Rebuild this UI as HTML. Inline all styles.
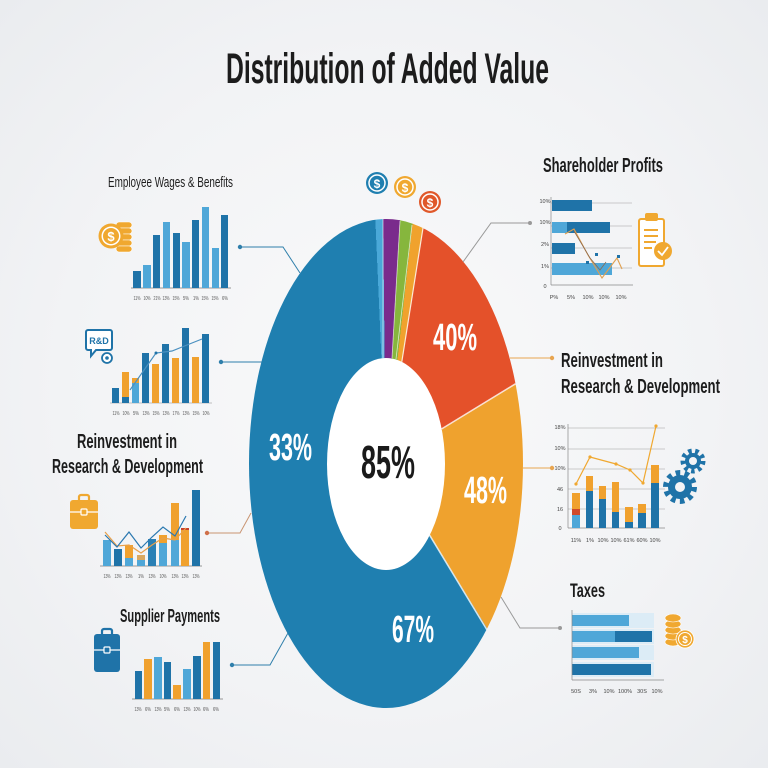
<!DOCTYPE html>
<html><head><meta charset="utf-8">
<style>
html,body{margin:0;padding:0;}
body{width:768px;height:768px;position:relative;overflow:hidden;background:radial-gradient(ellipse at 50% 50%,#f9fafb 0%,#f2f3f5 60%,#eaecef 100%);font-family:"Liberation Sans",sans-serif;}
#donut{position:absolute;left:249px;top:219px;width:274px;height:489px;border-radius:50%;
background:conic-gradient(#7a2b8c 0deg 3.3deg,#86b63d 3.3deg 6.3deg,#f0a22d 6.3deg 9deg,#e4512a 9deg 58.5deg,#efa22e 58.5deg 148.5deg,#1f7fb0 148.5deg 357.5deg,#4aa8d8 357.5deg 359.3deg,#7a2b8c 359.3deg 360deg);}
svg{position:absolute;left:0;top:0;}
</style></head>
<body>
<div id="donut"></div>
<svg width="768" height="768" viewBox="0 0 768 768" font-family="Liberation Sans, sans-serif">
<!-- title -->
<text x="226" y="83" font-size="43" font-weight="bold" fill="#1c1c1c" textLength="323" lengthAdjust="spacingAndGlyphs">Distribution of Added Value</text>

<!-- donut inner + separators -->
<line x1="401.8" y1="361.8" x2="423" y2="228" stroke="#fff" stroke-width="1.2" opacity="0.8"/>
<line x1="441.7" y1="428.9" x2="515.5" y2="383.8" stroke="#fff" stroke-width="1.5" opacity="0.8"/>
<line x1="429.3" y1="534.7" x2="486.8" y2="629.6" stroke="#fff" stroke-width="1.5" opacity="0.8"/>
<line x1="383" y1="358" x2="383" y2="219" stroke="#fff" stroke-width="0.8" opacity="0.7"/>
<line x1="392" y1="358" x2="400" y2="221" stroke="#fff" stroke-width="0.8" opacity="0.7"/>
<line x1="396" y1="359" x2="412" y2="225" stroke="#fff" stroke-width="0.8" opacity="0.7"/>
<ellipse cx="386" cy="464" rx="59" ry="106" fill="#fff"/>
<text x="269" y="460" font-size="38" font-weight="bold" fill="#fff" textLength="43" lengthAdjust="spacingAndGlyphs">33%</text>
<text x="433" y="350" font-size="38" font-weight="bold" fill="#fff" textLength="44" lengthAdjust="spacingAndGlyphs">40%</text>
<text x="464" y="503" font-size="38" font-weight="bold" fill="#fff" textLength="43" lengthAdjust="spacingAndGlyphs">48%</text>
<text x="392" y="642" font-size="38" font-weight="bold" fill="#fff" textLength="42" lengthAdjust="spacingAndGlyphs">67%</text>
<text x="361" y="478" font-size="46" font-weight="bold" fill="#1a1a1a" textLength="54" lengthAdjust="spacingAndGlyphs">85%</text>

<!-- top coins -->
<g font-weight="bold" text-anchor="middle">
<circle cx="377" cy="183" r="11" fill="#1f7fb0"/><circle cx="377" cy="183" r="8" fill="none" stroke="#fff" stroke-width="1.5"/><text x="377" y="188" font-size="12" fill="#fff">$</text>
<circle cx="405" cy="187" r="11" fill="#f0a830"/><circle cx="405" cy="187" r="8" fill="none" stroke="#fff" stroke-width="1.5"/><text x="405" y="192" font-size="12" fill="#fff">$</text>
<circle cx="430" cy="202" r="11" fill="#e0582a"/><circle cx="430" cy="202" r="8" fill="none" stroke="#fff" stroke-width="1.5"/><text x="430" y="207" font-size="12" fill="#fff">$</text>
</g>

<!-- connectors -->
<g fill="none" stroke-width="1">
<polyline points="240,247 283,247 300,273" stroke="#2f7fab"/>
<polyline points="221,362 262,362" stroke="#2f7fab"/>
<polyline points="207,533 240,533 251,513" stroke="#c99572"/>
<polyline points="232,665 270,665 288,633" stroke="#2f7fab"/>
<polyline points="530,223 491,223 463,262" stroke="#999"/>
<polyline points="510,358 552,358" stroke="#e8a550"/>
<polyline points="523,468 552,468" stroke="#e8a550"/>
<polyline points="501,597 520,628 560,628" stroke="#999"/>
</g>
<circle cx="240" cy="247" r="2.2" fill="#2f7fab"/>
<circle cx="221" cy="362" r="2.2" fill="#2f7fab"/>
<circle cx="207" cy="533" r="2.2" fill="#d0704a"/>
<circle cx="232" cy="665" r="2.2" fill="#2f7fab"/>
<circle cx="530" cy="223" r="2" fill="#999"/>
<circle cx="552" cy="358" r="2.2" fill="#e8a550"/>
<circle cx="552" cy="468" r="2.2" fill="#e8a550"/>
<circle cx="560" cy="628" r="2" fill="#999"/>

<!-- ===== Panel 1: Employee Wages ===== -->
<text x="108" y="187" font-size="15" fill="#1e1e1e" textLength="125" lengthAdjust="spacingAndGlyphs">Employee Wages &amp; Benefits</text>
<g>
<rect x="116" y="222" width="16" height="6" rx="3" fill="#f0a830" stroke="#fff" stroke-width="0.6"/>
<rect x="116" y="228" width="16" height="6" rx="3" fill="#f0a830" stroke="#fff" stroke-width="0.6"/>
<rect x="116" y="234" width="16" height="6" rx="3" fill="#f0a830" stroke="#fff" stroke-width="0.6"/>
<rect x="116" y="240" width="16" height="6" rx="3" fill="#f0a830" stroke="#fff" stroke-width="0.6"/>
<rect x="116" y="246" width="16" height="6" rx="3" fill="#f0a830" stroke="#fff" stroke-width="0.6"/>
<circle cx="111" cy="236" r="12.5" fill="#f0a830"/>
<circle cx="111" cy="236" r="9.5" fill="#fff" stroke="none"/>
<circle cx="111" cy="236" r="8" fill="#f0a830"/>
<text x="111" y="241" font-size="13" font-weight="bold" fill="#fff" text-anchor="middle">$</text>
</g>
<line x1="131" y1="288" x2="231" y2="288" stroke="#777" stroke-width="0.8"/>
<g fill="#1f73a8">
<rect x="133" y="271" width="8" height="17"/>
<rect x="153" y="235" width="7" height="53"/>
<rect x="173" y="233" width="7" height="55"/>
<rect x="192" y="220" width="7" height="68"/>
<rect x="221" y="215" width="7" height="73"/>
</g>
<g fill="#4fa7d8">
<rect x="143" y="265" width="8" height="23"/>
<rect x="163" y="222" width="7" height="66"/>
<rect x="182" y="242" width="8" height="46"/>
<rect x="202" y="207" width="7" height="81"/>
<rect x="212" y="248" width="7" height="40"/>
</g>
<g font-size="5.5" fill="#555" text-anchor="middle" lengthAdjust="spacingAndGlyphs">
<text x="137" y="300" textLength="7" lengthAdjust="spacingAndGlyphs">11%</text><text x="147" y="300" textLength="7" lengthAdjust="spacingAndGlyphs">10%</text><text x="157" y="300" textLength="7" lengthAdjust="spacingAndGlyphs">21%</text><text x="166" y="300" textLength="7" lengthAdjust="spacingAndGlyphs">13%</text><text x="176" y="300" textLength="7" lengthAdjust="spacingAndGlyphs">15%</text><text x="186" y="300" textLength="6" lengthAdjust="spacingAndGlyphs">5%</text><text x="196" y="300" textLength="6" lengthAdjust="spacingAndGlyphs">1%</text><text x="205" y="300" textLength="7" lengthAdjust="spacingAndGlyphs">15%</text><text x="215" y="300" textLength="7" lengthAdjust="spacingAndGlyphs">15%</text><text x="225" y="300" textLength="6" lengthAdjust="spacingAndGlyphs">6%</text>
</g>

<!-- ===== Panel 2: R&D chart ===== -->
<g>
<path d="M88 330 h22 a2 2 0 0 1 2 2 v16 a2 2 0 0 1 -2 2 h-14 l-5 6 v-6 h-3 a2 2 0 0 1 -2 -2 v-16 a2 2 0 0 1 2 -2z" fill="#fff" stroke="#1f73a8" stroke-width="2"/>
<text x="99" y="344" font-size="9" font-weight="bold" fill="#1f73a8" text-anchor="middle">R&amp;D</text>
<circle cx="107" cy="358" r="5" fill="#fff" stroke="#1f73a8" stroke-width="1.8"/>
<circle cx="107" cy="358" r="1.8" fill="#1f73a8"/>
</g>
<line x1="110" y1="403" x2="212" y2="403" stroke="#888" stroke-width="0.6"/>
<g fill="#1f73a8">
<rect x="112" y="388" width="7" height="15"/>
<rect x="122" y="397" width="7" height="6"/>
<rect x="142" y="353" width="7" height="50"/>
<rect x="162" y="344" width="7" height="59"/>
<rect x="182" y="328" width="7" height="75"/>
<rect x="202" y="334" width="7" height="69"/>
</g>
<g fill="#f0a12e">
<rect x="122" y="372" width="7" height="25"/>
<rect x="132" y="378" width="7" height="5"/>
<rect x="152" y="364" width="7" height="39"/>
<rect x="172" y="358" width="7" height="45"/>
<rect x="192" y="357" width="7" height="46"/>
</g>
<rect x="132" y="383" width="7" height="20" fill="#4fa7d8"/>
<polyline points="130,390 156,353 172,351 187,345 202,339" fill="none" stroke="#4a90c0" stroke-width="1.2"/>
<circle cx="156" cy="353" r="1.5" fill="#1f73a8"/>
<g font-size="5.5" fill="#555" text-anchor="middle">
<text x="116" y="415" textLength="7" lengthAdjust="spacingAndGlyphs">11%</text><text x="126" y="415" textLength="7" lengthAdjust="spacingAndGlyphs">10%</text><text x="136" y="415" textLength="6" lengthAdjust="spacingAndGlyphs">5%</text><text x="146" y="415" textLength="7" lengthAdjust="spacingAndGlyphs">13%</text><text x="156" y="415" textLength="7" lengthAdjust="spacingAndGlyphs">15%</text><text x="166" y="415" textLength="7" lengthAdjust="spacingAndGlyphs">13%</text><text x="176" y="415" textLength="7" lengthAdjust="spacingAndGlyphs">17%</text><text x="186" y="415" textLength="7" lengthAdjust="spacingAndGlyphs">13%</text><text x="196" y="415" textLength="7" lengthAdjust="spacingAndGlyphs">15%</text><text x="206" y="415" textLength="7" lengthAdjust="spacingAndGlyphs">10%</text>
</g>

<!-- ===== Panel 3: Reinvestment left ===== -->
<text x="77" y="448" font-size="20" font-weight="bold" fill="#1c1c1c" textLength="100" lengthAdjust="spacingAndGlyphs">Reinvestment in</text>
<text x="52" y="473" font-size="20" font-weight="bold" fill="#1c1c1c" textLength="151" lengthAdjust="spacingAndGlyphs">Research &amp; Development</text>
<g>
<path d="M79 500 v-3 a2 2 0 0 1 2 -2 h6 a2 2 0 0 1 2 2 v3" fill="none" stroke="#f0a830" stroke-width="2.2"/>
<rect x="70" y="500" width="28" height="29" rx="3" fill="#f0a830"/>
<line x1="70" y1="512" x2="98" y2="512" stroke="#fff" stroke-width="1.2"/>
<rect x="81" y="509" width="6" height="6" rx="1" fill="#f0a830" stroke="#fff" stroke-width="1.2"/>
</g>
<line x1="100" y1="566" x2="202" y2="566" stroke="#777" stroke-width="0.8"/>
<rect x="103" y="540" width="8" height="26" fill="#4fa7d8"/>
<rect x="114" y="549" width="8" height="17" fill="#1f73a8"/>
<rect x="125" y="545" width="8" height="13" fill="#f0a12e"/><rect x="125" y="558" width="8" height="8" fill="#4fa7d8"/>
<rect x="137" y="555" width="8" height="11" fill="#d9a860"/><rect x="137" y="560" width="8" height="6" fill="#4fa7d8"/>
<rect x="148" y="539" width="8" height="27" fill="#2a80b5"/>
<rect x="159" y="535" width="8" height="8" fill="#f0a12e"/><rect x="159" y="543" width="8" height="23" fill="#4fa7d8"/>
<rect x="171" y="503" width="8" height="37" fill="#f0a12e"/><rect x="171" y="540" width="8" height="26" fill="#4fa7d8"/>
<rect x="181" y="528" width="8" height="38" fill="#f0a12e"/><rect x="181" y="528" width="8" height="2" fill="#c8402a"/>
<rect x="192" y="490" width="8" height="76" fill="#1f73a8"/>
<polyline points="105,532 117,546 129,545 141,553 152,545 163,538 175,540 186,528" fill="none" stroke="#e8a04a" stroke-width="1.2"/>
<polyline points="105,535 117,547 129,532 141,548 152,537 163,527 175,536 186,516" fill="none" stroke="#2a78b0" stroke-width="1.2"/>
<g font-size="5.5" fill="#555" text-anchor="middle">
<text x="107" y="578" textLength="7" lengthAdjust="spacingAndGlyphs">13%</text><text x="118" y="578" textLength="7" lengthAdjust="spacingAndGlyphs">13%</text><text x="129" y="578" textLength="7" lengthAdjust="spacingAndGlyphs">13%</text><text x="141" y="578" textLength="6" lengthAdjust="spacingAndGlyphs">1%</text><text x="152" y="578" textLength="7" lengthAdjust="spacingAndGlyphs">13%</text><text x="163" y="578" textLength="7" lengthAdjust="spacingAndGlyphs">10%</text><text x="175" y="578" textLength="7" lengthAdjust="spacingAndGlyphs">13%</text><text x="185" y="578" textLength="7" lengthAdjust="spacingAndGlyphs">13%</text><text x="196" y="578" textLength="7" lengthAdjust="spacingAndGlyphs">13%</text>
</g>

<!-- ===== Panel 4: Supplier Payments ===== -->
<text x="120" y="622" font-size="18" font-weight="bold" fill="#1c1c1c" textLength="100" lengthAdjust="spacingAndGlyphs">Supplier Payments</text>
<g>
<path d="M102 634 v-3 a2 2 0 0 1 2 -2 h6 a2 2 0 0 1 2 2 v3" fill="none" stroke="#1f73a8" stroke-width="2.2"/>
<rect x="94" y="634" width="26" height="38" rx="3" fill="#1f73a8"/>
<line x1="94" y1="650" x2="120" y2="650" stroke="#fff" stroke-width="1.2"/>
<rect x="104" y="647" width="6" height="6" rx="1" fill="#1f73a8" stroke="#fff" stroke-width="1.2"/>
</g>
<line x1="132" y1="699" x2="223" y2="699" stroke="#777" stroke-width="0.8"/>
<rect x="135" y="671" width="7" height="28" fill="#1f73a8"/>
<rect x="144" y="659" width="8" height="40" fill="#f0a12e"/>
<rect x="154" y="657" width="8" height="42" fill="#4fa7d8"/>
<rect x="164" y="662" width="7" height="37" fill="#1f73a8"/>
<rect x="173" y="685" width="8" height="14" fill="#f0a12e"/>
<rect x="183" y="669" width="8" height="30" fill="#4fa7d8"/>
<rect x="193" y="656" width="8" height="43" fill="#1f73a8"/>
<rect x="203" y="642" width="7" height="57" fill="#f0a12e"/>
<rect x="213" y="642" width="7" height="57" fill="#1f73a8"/>
<g font-size="5.5" fill="#555" text-anchor="middle">
<text x="138" y="711" textLength="7" lengthAdjust="spacingAndGlyphs">13%</text><text x="148" y="711" textLength="6" lengthAdjust="spacingAndGlyphs">6%</text><text x="158" y="711" textLength="7" lengthAdjust="spacingAndGlyphs">13%</text><text x="167" y="711" textLength="6" lengthAdjust="spacingAndGlyphs">5%</text><text x="177" y="711" textLength="6" lengthAdjust="spacingAndGlyphs">6%</text><text x="187" y="711" textLength="7" lengthAdjust="spacingAndGlyphs">13%</text><text x="197" y="711" textLength="7" lengthAdjust="spacingAndGlyphs">10%</text><text x="206" y="711" textLength="6" lengthAdjust="spacingAndGlyphs">6%</text><text x="216" y="711" textLength="6" lengthAdjust="spacingAndGlyphs">6%</text>
</g>

<!-- ===== Shareholder Profits ===== -->
<text x="543" y="172" font-size="20" fill="#1c1c1c" textLength="120" lengthAdjust="spacingAndGlyphs" font-weight="bold">Shareholder Profits</text>
<g stroke="#bbb" stroke-width="0.7">
<line x1="551" y1="203" x2="632" y2="203"/><line x1="551" y1="226" x2="632" y2="226"/><line x1="551" y1="248" x2="632" y2="248"/><line x1="551" y1="268" x2="632" y2="268"/>
</g>
<line x1="551" y1="197" x2="551" y2="285" stroke="#888" stroke-width="0.7"/>
<line x1="551" y1="285" x2="633" y2="285" stroke="#888" stroke-width="0.7"/>
<rect x="552" y="200" width="40" height="11" fill="#1f73a8"/>
<rect x="552" y="222" width="15" height="11" fill="#4fa7d8"/><rect x="567" y="222" width="43" height="11" fill="#1f73a8"/>
<rect x="552" y="243" width="23" height="11" fill="#1f73a8"/>
<rect x="552" y="263" width="60" height="12" fill="#4fa7d8"/>
<polyline points="565,234 574,229 588,255 602,278 617,258 622,269" fill="none" stroke="#e0a050" stroke-width="1.1"/>
<polyline points="574,231 590,258 600,270 606,262" fill="none" stroke="#8a6a50" stroke-width="0.8"/>
<rect x="595" y="253" width="3" height="3" fill="#1f73a8"/><rect x="586" y="261" width="3" height="3" fill="#1f73a8"/><rect x="617" y="255" width="3" height="3" fill="#1f73a8"/>
<g font-size="5.5" fill="#444" text-anchor="middle">
<text x="545" y="203">10%</text><text x="545" y="224">10%</text><text x="545" y="246">2%</text><text x="545" y="268">1%</text><text x="545" y="288">0</text>
<text x="554" y="299">P%</text><text x="571" y="299">5%</text><text x="588" y="299">10%</text><text x="604" y="299">10%</text><text x="621" y="299">10%</text>
</g>
<g fill="none" stroke="#f0a830" stroke-width="2">
<rect x="639" y="219" width="25" height="47" rx="2" fill="#fff"/>
<rect x="646" y="214" width="11" height="6" rx="1" fill="#f0a830"/>
<line x1="644" y1="230" x2="658" y2="230"/><line x1="644" y1="236" x2="658" y2="236"/><line x1="644" y1="242" x2="656" y2="242"/><line x1="644" y1="248" x2="652" y2="248"/>
</g>
<circle cx="663" cy="251" r="9" fill="#f0a830"/>
<polyline points="658,251 662,255 668,247" fill="none" stroke="#fff" stroke-width="1.8"/>

<!-- ===== Reinvestment right ===== -->
<text x="561" y="367" font-size="20" font-weight="bold" fill="#1c1c1c" textLength="102" lengthAdjust="spacingAndGlyphs">Reinvestment in</text>
<text x="561" y="393" font-size="20" font-weight="bold" fill="#1c1c1c" textLength="159" lengthAdjust="spacingAndGlyphs">Research &amp; Development</text>
<g stroke="#bbb" stroke-width="0.7">
<line x1="568" y1="428" x2="665" y2="428"/><line x1="568" y1="449" x2="665" y2="449"/><line x1="568" y1="469" x2="665" y2="469"/><line x1="568" y1="489" x2="665" y2="489"/><line x1="568" y1="509" x2="665" y2="509"/>
</g>
<line x1="568" y1="424" x2="568" y2="528" stroke="#888" stroke-width="0.7"/>
<line x1="568" y1="528" x2="665" y2="528" stroke="#888" stroke-width="0.7"/>
<rect x="572" y="493" width="8" height="35" fill="#f0a12e"/><rect x="572" y="509" width="8" height="6" fill="#d04a2a"/><rect x="572" y="515" width="8" height="13" fill="#4fa7d8"/>
<rect x="586" y="476" width="7" height="52" fill="#f0a12e"/><rect x="586" y="491" width="7" height="37" fill="#1f73a8"/>
<rect x="599" y="486" width="7" height="42" fill="#f0a12e"/><rect x="599" y="499" width="7" height="29" fill="#1f73a8"/>
<rect x="612" y="482" width="7" height="46" fill="#f0a12e"/><rect x="612" y="512" width="7" height="16" fill="#1f73a8"/>
<rect x="625" y="507" width="8" height="21" fill="#f0a12e"/><rect x="625" y="522" width="8" height="6" fill="#1f73a8"/>
<rect x="638" y="504" width="8" height="24" fill="#f0a12e"/><rect x="638" y="513" width="8" height="15" fill="#1f73a8"/>
<rect x="651" y="465" width="8" height="63" fill="#f0a12e"/><rect x="651" y="483" width="8" height="45" fill="#1f73a8"/>
<polyline points="576,484 590,457 616,464 630,470 643,483 656,426" fill="none" stroke="#f0a830" stroke-width="1.2"/>
<g fill="#f0a830"><circle cx="576" cy="484" r="1.6"/><circle cx="590" cy="457" r="1.6"/><circle cx="616" cy="464" r="1.6"/><circle cx="630" cy="470" r="1.6"/><circle cx="643" cy="483" r="1.6"/><circle cx="656" cy="426" r="1.6"/></g>
<g font-size="5.5" fill="#444" text-anchor="middle">
<text x="560" y="429">18%</text><text x="560" y="450">10%</text><text x="560" y="470">10%</text><text x="560" y="491">46</text><text x="560" y="511">16</text><text x="560" y="530">0</text>
<text x="576" y="542">11%</text><text x="590" y="542">1%</text><text x="603" y="542">10%</text><text x="616" y="542">10%</text><text x="629" y="542">61%</text><text x="642" y="542">60%</text><text x="655" y="542">10%</text>
</g>
<g>
<circle cx="693" cy="461" r="10" fill="none" stroke="#1f73a8" stroke-width="5" stroke-dasharray="3.5 3.5"/>
<circle cx="693" cy="461" r="8" fill="#1f73a8"/><circle cx="693" cy="461" r="4" fill="#f3f4f6"/>
<circle cx="680" cy="487" r="14" fill="none" stroke="#1f73a8" stroke-width="6" stroke-dasharray="4.5 4.3"/>
<circle cx="680" cy="487" r="12" fill="#1f73a8"/><circle cx="680" cy="487" r="5" fill="#f3f4f6"/>
</g>

<!-- ===== Taxes ===== -->
<text x="570" y="597" font-size="19" font-weight="bold" fill="#1c1c1c" textLength="35" lengthAdjust="spacingAndGlyphs">Taxes</text>
<g fill="#dcecf6">
<rect x="572" y="613" width="82" height="15"/><rect x="572" y="629" width="82" height="15"/><rect x="572" y="645" width="82" height="15"/><rect x="572" y="662" width="82" height="15"/>
</g>
<rect x="572" y="615" width="57" height="11" fill="#4fa7d8"/>
<rect x="572" y="631" width="43" height="11" fill="#4fa7d8"/><rect x="615" y="631" width="37" height="11" fill="#1f73a8"/>
<rect x="572" y="647" width="67" height="11" fill="#4fa7d8"/>
<rect x="572" y="664" width="79" height="11" fill="#1f73a8"/>
<line x1="572" y1="610" x2="572" y2="680" stroke="#888" stroke-width="0.7"/>
<line x1="572" y1="680" x2="664" y2="680" stroke="#888" stroke-width="0.7"/>
<g font-size="5.5" fill="#444" text-anchor="middle">
<text x="576" y="693">50S</text><text x="593" y="693">3%</text><text x="609" y="693">10%</text><text x="625" y="693">100%</text><text x="642" y="693">30S</text><text x="657" y="693">10%</text>
</g>
<g>
<ellipse cx="673" cy="642" rx="8" ry="4" fill="#f0a830" stroke="#fff" stroke-width="0.6"/>
<ellipse cx="673" cy="636" rx="8" ry="4" fill="#f0a830" stroke="#fff" stroke-width="0.6"/>
<ellipse cx="673" cy="630" rx="8" ry="4" fill="#f0a830" stroke="#fff" stroke-width="0.6"/>
<ellipse cx="673" cy="624" rx="8" ry="4" fill="#f0a830" stroke="#fff" stroke-width="0.6"/>
<ellipse cx="673" cy="618" rx="8" ry="4" fill="#f0a830" stroke="#fff" stroke-width="0.6"/>
<circle cx="685" cy="639" r="9" fill="#f0a830" stroke="#fff" stroke-width="0.8"/>
<circle cx="685" cy="639" r="6.5" fill="none" stroke="#fff" stroke-width="1"/>
<text x="685" y="643" font-size="10" font-weight="bold" fill="#fff" text-anchor="middle">$</text>
</g>
</svg>
</body></html>
